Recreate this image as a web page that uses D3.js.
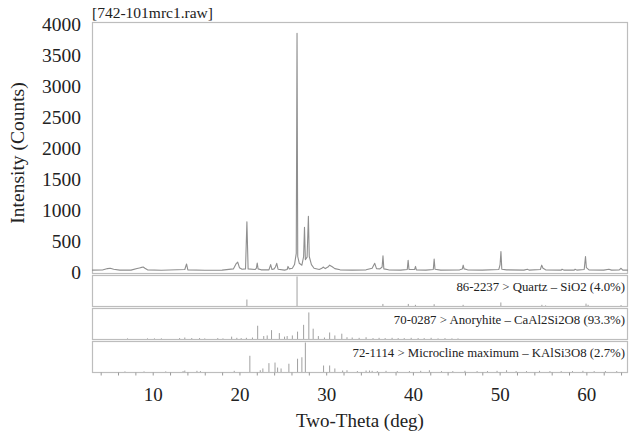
<!DOCTYPE html>
<html>
<head>
    <meta charset="utf-8">
    <script src="https://d3js.org/d3.v7.min.js"></script>
    <style>
        body { margin: 0; background: #fff; }
        svg text { font-family: "Liberation Serif", "Times New Roman", Times, "DejaVu Serif", serif; fill: #222; }
    </style>
</head>
<body>
<svg id="chart"></svg>
<script>
    // measured pattern (2-theta, counts)
    const patternTheta = [3.0, 4.2, 4.8, 5.1, 5.5, 6.2, 7.5, 8.2, 8.6, 8.9, 9.1, 9.4, 11.0, 13.7, 13.9, 14.05,
        16.0, 18.0, 19.3, 19.6, 19.8, 20.0, 20.3, 20.7, 20.86, 21.0, 21.8, 21.95, 22.05, 22.15, 22.5,
        23.4, 23.6, 23.75, 24.0, 24.15, 24.3, 24.45, 25.2, 25.5, 25.6, 25.75, 26.1, 26.35, 26.55, 26.64,
        26.72, 26.9, 27.2, 27.4, 27.5, 27.6, 27.8, 27.95, 28.05, 28.3, 28.6, 29.2, 29.5, 29.65, 29.9,
        30.2, 30.4, 30.7, 31.0, 31.6, 33.0, 34.6, 35.3, 35.6, 35.8, 36.2, 36.45, 36.55, 36.65, 37.2,
        38.6, 39.35, 39.45, 39.55, 40.2, 40.3, 40.4, 41.5, 42.35, 42.45, 42.55, 43.2, 45.4, 45.7, 45.8,
        45.9, 46.3, 48.0, 49.9, 50.05, 50.15, 50.25, 50.8, 52.8, 53.2, 53.4, 54.7, 54.85, 55.0, 55.3,
        57.1, 57.2, 57.4, 58.6, 58.7, 58.9, 59.75, 59.9, 60.0, 60.3, 62.0, 62.6, 62.9, 63.8, 64.0,
        64.2, 64.8];
    const patternCounts = [30, 32, 55, 60, 45, 30, 30, 55, 70, 80, 60, 35, 28, 40, 130, 35,
        28, 30, 50, 130, 160, 70, 45, 50, 810, 50, 40, 60, 145, 50, 35,
        35, 120, 40, 50, 80, 140, 45, 30, 40, 90, 50, 60, 120, 300, 3850,
        250, 140, 110, 250, 720, 200, 240, 900, 250, 120, 60, 40, 60, 80, 55,
        80, 110, 85, 55, 35, 30, 35, 60, 140, 55, 50, 80, 260, 50, 35,
        30, 40, 190, 40, 40, 90, 35, 30, 40, 210, 45, 30, 35, 50, 110,
        50, 35, 30, 40, 120, 330, 45, 35, 30, 45, 30, 40, 110, 60, 35,
        30, 45, 30, 30, 45, 30, 40, 250, 70, 35, 30, 45, 30, 35, 60,
        30, 30];

    // reference phases: stick positions and relative heights (%)
    const phaseLabels = ["86-2237 > Quartz \u2013 SiO2 (4.0%)",
        "70-0287 > Anoryhite \u2013 CaAl2Si2O8 (93.3%)",
        "72-1114 > Microcline maximum \u2013 KAlSi3O8 (2.7%)"];
    const quartzTheta = [20.86, 26.64, 36.54, 39.47, 40.29, 42.45, 45.79, 50.14, 54.87, 55.3, 59.96, 60.2, 64.0];
    const quartzRel = [22, 100, 7, 7, 4, 6, 4, 12, 4, 2, 8, 4, 3];
    const anorthiteTheta = [7.1, 9.4, 10.2, 11.0, 13.1, 13.7, 14.5, 15.4, 16.0, 17.5, 18.1, 19.1, 19.7, 20.2,
        20.8, 21.5, 22.1, 22.8, 23.2, 23.7, 24.6, 25.2, 25.5, 26.1, 26.7, 27.4, 28.0, 28.5, 29.1, 29.8,
        30.4, 31.0, 31.8, 32.4, 33.0, 33.8, 34.6, 35.4, 36.1, 36.8, 37.6, 38.3, 39.0, 39.8, 40.6,
        41.3, 42.1, 42.9, 43.7, 44.5, 45.2];
    const anorthiteRel = [2, 2, 2, 2, 3, 5, 3, 3, 2, 3, 2, 8, 4, 3,
        4, 5, 45, 10, 12, 30, 20, 8, 10, 12, 25, 48, 90, 35, 10, 5,
        22, 12, 18, 6, 5, 4, 6, 3, 4, 3, 4, 3, 3, 4, 3,
        3, 4, 2, 3, 2, 2];
    const microclineTheta = [6.8, 9.0, 11.5, 13.5, 13.7, 15.1, 15.5, 19.4, 21.2, 22.4, 22.7, 23.4, 24.1, 24.4,
        24.8, 25.7, 26.7, 27.2, 27.6, 29.7, 30.4, 31.0, 31.9, 32.4, 33.6, 34.6, 35.0, 35.3, 35.9,
        36.9, 38.2, 39.6, 40.9, 41.9, 43.3, 44.6, 46.0, 47.4, 48.6, 49.7, 50.8, 51.9, 53.1, 54.6,
        55.8, 57.1, 58.4, 59.6, 60.9, 62.2, 63.5];
    const microclineRel = [2, 2, 2, 3, 5, 4, 3, 4, 55, 6, 12, 30, 32, 15,
        12, 28, 45, 50, 100, 22, 22, 12, 5, 6, 3, 5, 5, 4, 3,
        4, 3, 3, 4, 6, 3, 3, 4, 3, 3, 4, 6, 3, 3, 4,
        3, 3, 3, 4, 3, 3, 3];

    const yTicks = [0, 500, 1000, 1500, 2000, 2500, 3000, 3500, 4000];
    const xTicks = [10, 20, 30, 40, 50, 60];

    const width = 629;
    const height = 440;
    const plotLeft = 92, plotRight = 628;
    const serif = "'Liberation Serif', 'Times New Roman', Times, 'DejaVu Serif', serif";

    const svg = d3.select("#chart").attr("width", width).attr("height", height);

    const x = d3.scaleLinear().domain([3, 64.8]).range([plotLeft, plotRight]);
    const y = d3.scaleLinear().domain([0, 4000]).range([272, 24]);

    // frames: main pattern plus three stick panels
    const frames = [[22, 273], [275, 306], [308, 339], [341, 372]];
    frames.forEach(f => {
        svg.append("rect")
            .attr("x", plotLeft + 0.5)
            .attr("y", f[0] + 0.5)
            .attr("width", plotRight - plotLeft - 1)
            .attr("height", f[1] - f[0])
            .attr("fill", "none")
            .attr("stroke", "#bdbdbd")
            .attr("stroke-width", 1.2);
    });

    // measured pattern line
    const pattern = patternTheta.map((t, i) => ({ t: t, c: patternCounts[i] }));
    svg.append("path")
        .datum(pattern)
        .attr("fill", "none")
        .attr("stroke", "#8f8f8f")
        .attr("stroke-width", 1.1)
        .attr("stroke-linejoin", "round")
        .attr("d", d3.line().x(d => x(d.t)).y(d => y(d.c)));

    // stick panels
    const phases = [
        { theta: quartzTheta, rel: quartzRel },
        { theta: anorthiteTheta, rel: anorthiteRel },
        { theta: microclineTheta, rel: microclineRel }
    ];
    phases.forEach((p, i) => {
        const f = frames[i + 1];
        const ys = d3.scaleLinear().domain([0, 100]).range([f[1], f[0] + 1.5]);
        svg.append("g")
            .selectAll("line")
            .data(p.theta.map((t, j) => ({ t: t, r: p.rel[j] })))
            .enter()
            .append("line")
            .attr("x1", d => x(d.t))
            .attr("x2", d => x(d.t))
            .attr("y1", ys(0))
            .attr("y2", d => ys(d.r))
            .attr("stroke", "#a0a0a0")
            .attr("stroke-width", 1);

        svg.append("text")
            .attr("x", 625)
            .attr("y", f[0] + 16)
            .attr("text-anchor", "end")
            .style("font-family", serif)
            .style("font-size", "12.8px")
            .text(phaseLabels[i]);
    });

    // minor ticks along the bottom frame
    const minorAxis = d3.axisBottom(x).tickValues(d3.range(4, 65, 2)).tickSize(3).tickFormat("");
    const gMinor = svg.append("g").attr("transform", "translate(0,372.5)").call(minorAxis);
    gMinor.select(".domain").remove();
    gMinor.selectAll("line").attr("stroke", "#999");

    // x axis labels
    const gx = svg.append("g")
        .attr("transform", "translate(0,373)")
        .call(d3.axisBottom(x).tickValues(xTicks).tickSize(0).tickPadding(15));
    gx.select(".domain").remove();
    gx.selectAll("text")
        .style("font-family", serif)
        .style("font-size", "19px")
        .attr("fill", "#222");

    // y axis labels
    const gy = svg.append("g")
        .attr("transform", "translate(" + plotLeft + ",0)")
        .call(d3.axisLeft(y).tickValues(yTicks).tickFormat(d3.format("d")).tickSize(0).tickPadding(11));
    gy.select(".domain").remove();
    gy.selectAll("text")
        .style("font-family", serif)
        .style("font-size", "19.5px")
        .attr("fill", "#222");

    // titles
    svg.append("text")
        .attr("x", plotLeft)
        .attr("y", 18)
        .style("font-family", serif)
        .style("font-size", "15.5px")
        .text("[742-101mrc1.raw]");

    svg.append("text")
        .attr("x", (plotLeft + plotRight) / 2)
        .attr("y", 427)
        .attr("text-anchor", "middle")
        .style("font-family", serif)
        .style("font-size", "19px")
        .text("Two-Theta (deg)");

    svg.append("text")
        .attr("transform", "translate(24,153) rotate(-90)")
        .attr("text-anchor", "middle")
        .style("font-family", serif)
        .style("font-size", "19.5px")
        .text("Intensity (Counts)");
</script>
</body>
</html>
